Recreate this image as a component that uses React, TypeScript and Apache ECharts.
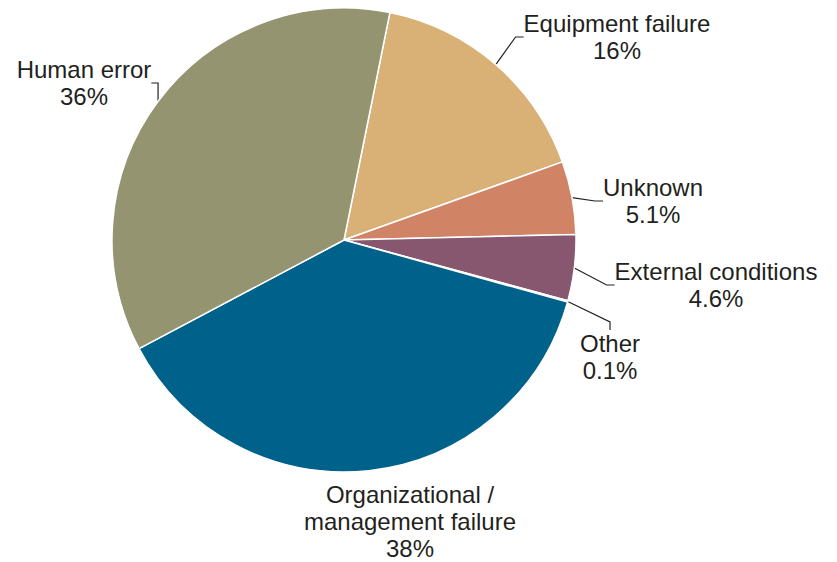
import React, { useEffect, useRef } from "react";
import * as echarts from "echarts";

const categories = [
  "Equipment failure",
  "Unknown",
  "External conditions",
  "Other",
  "Organizational /\nmanagement failure",
  "Human error",
];
const shares = [16.4, 5.1, 4.6, 0.1, 38, 36];
const shareLabels = ["16%", "5.1%", "4.6%", "0.1%", "38%", "36%"];
const colors = ["#D9B076", "#D18365", "#87566F", "#6C8FA6", "#00628B", "#959470"];
// label anchor centers (layout)
const labelAnchors: [number, number][] = [
  [617, 37],
  [653, 201],
  [716, 285],
  [610, 357],
  [410, 521],
  [84, 83],
];

export default function App() {
  const ref = useRef<HTMLDivElement>(null);
  useEffect(() => {
    document.body.style.margin = "0";
    const chart = echarts.init(ref.current!, null, { renderer: "svg" });
    chart.setOption({
      animation: false,
      backgroundColor: "#ffffff",
      series: [
        {
          type: "pie",
          center: [344, 240],
          radius: [0, 232],
          startAngle: 78.6,
          clockwise: true,
          avoidLabelOverlap: false,
          itemStyle: { borderColor: "#ffffff", borderWidth: 1.5 },
          label: {
            show: true,
            position: "outside",
            fontFamily: "Liberation Sans, Arial, sans-serif",
            fontSize: 24,
            lineHeight: 27,
            color: "#231F20",
            align: "center",
            formatter: (p: any) => `${p.name}\n${shareLabels[p.dataIndex]}`,
          },
          labelLine: {
            show: true,
            length: 8,
            length2: 8,
            lineStyle: { color: "#231F20", width: 1.2 },
          },
          labelLayout: (params: any) => {
            const a = labelAnchors[params.dataIndex];
            return { x: a[0], y: a[1], align: "center", verticalAlign: "middle" };
          },
          data: categories.map((name, i) => ({
            name,
            value: shares[i],
            itemStyle: { color: colors[i] },
            labelLine: { show: i !== 4 },
          })),
        },
      ],
    });
    return () => chart.dispose();
  }, []);
  return <div ref={ref} style={{ width: 837, height: 562 }} />;
}
